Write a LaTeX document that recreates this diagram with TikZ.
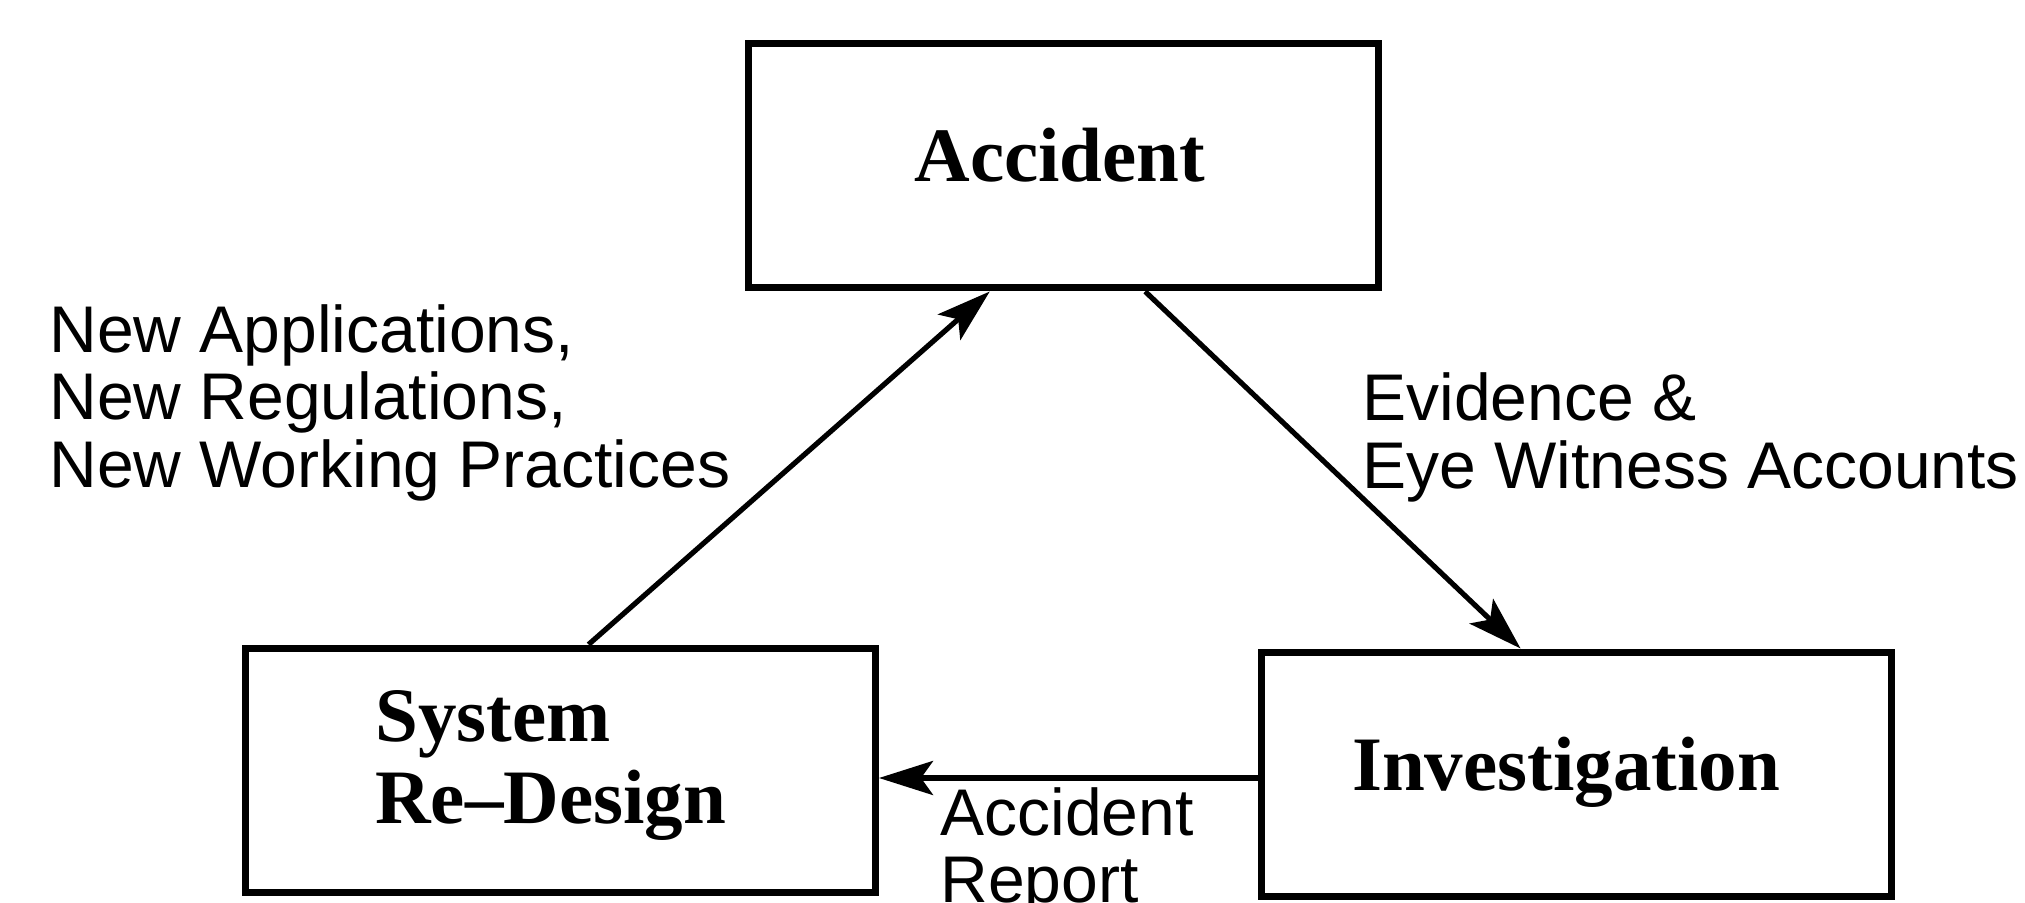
\documentclass[tikz,border=0pt]{standalone}
\usepackage{fontspec}
\setmainfont{Liberation Serif}
\newfontfamily\labelfont{Liberation Sans}
\usetikzlibrary{arrows.meta,calc}

\tikzset{
  stagebox/.style={draw, line width=3.5pt, rectangle, inner sep=0pt,
    minimum width=315pt, minimum height=122pt},
  boxtext/.style={inner sep=0pt, font=\fontsize{38.5}{40}\selectfont\bfseries},
  flowlabel/.style={inner sep=0pt, anchor=base west, font=\labelfont\fontsize{33}{35}\selectfont},
  flow/.style={line width=2.6pt, -{Stealth[length=27pt,width=17pt,inset=6pt]}}
}

\begin{document}
\begin{tikzpicture}[x=0.5pt,y=-0.5pt]
  \useasboundingbox[fill=white] (0,0) rectangle (2025,903);

  % the three stages of the cycle
  \node[stagebox] (acc) at (1063,166) {};
  \node[stagebox] (sys) at (560.5,770) {};
  \node[stagebox] (inv) at (1576,774) {};

  \node[boxtext, anchor=base] (accT) at (1060,182) {Accident};
  \node[boxtext, anchor=base west] (sysT1) at (375,741) {System};
  \node[boxtext, anchor=base west] (sysT2) at (375,823) {Re--Design};
  \node[boxtext, anchor=base] (invT) at (1566,790) {Investigation};

  % connectors between the stages
  \draw[flow] ($(sys.north west)!0.544!(sys.north east)$) -- ($(acc.south west)!0.385!(acc.south east)$);
  \draw[flow] ($(acc.south west)!0.629!(acc.south east)$) -- ($(inv.north west)!0.413!(inv.north east)$);
  \draw[flow] ([yshift=-2pt]inv.west) -- ([yshift=-2pt]inv.west -| sys.east);

  % connector labels
  \node[flowlabel] (l1) at (49,353) {New Applications,};
  \node[flowlabel] (l2) at (49,420) {New Regulations,};
  \node[flowlabel] (l3) at (49,488) {New Working Practices};

  \node[flowlabel] (r1) at (1362,421) {Evidence \&};
  \node[flowlabel] (r2) at (1362,489) {Eye Witness Accounts};

  \node[flowlabel] (b1) at (940,835) {Accident};
  \node[flowlabel] (b2) at (940,902) {Report};
\end{tikzpicture}
\end{document}
